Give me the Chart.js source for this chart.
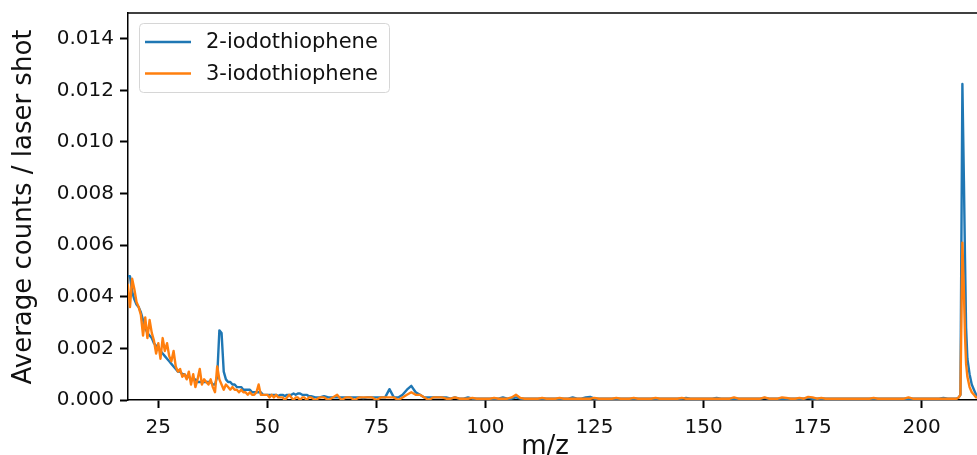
<!DOCTYPE html>
<html>
<head>
<meta charset="utf-8">
<title>Mass spectra: 2- and 3-iodothiophene</title>
<script src="https://cdn.jsdelivr.net/npm/chart.js@4/dist/chart.umd.min.js"></script>
<style>
  html, body { margin: 0; padding: 0; background: #fff; overflow: hidden; }
  #wrap { width: 977px; height: 455px; }
</style>
</head>
<body>
<div id="wrap"><canvas id="spec" width="977" height="455"></canvas></div>
<script>
// m/z sampling points (fine in the fragment region, coarse on the flat part, fine again at the parent ion)
const mz = [
  18, 18.5, 19, 19.5, 20, 20.5, 21, 21.5, 22, 22.5,
  23, 23.5, 24, 24.5, 25, 25.5, 26, 26.5, 27, 27.5,
  28, 28.5, 29, 29.5, 30, 30.5, 31, 31.5, 32, 32.5,
  33, 33.5, 34, 34.5, 35, 35.5, 36, 36.5, 37, 37.5,
  38, 38.5, 39, 39.5, 40, 40.5, 41, 41.5, 42, 42.5,
  43, 43.5, 44, 44.5, 45, 45.5, 46, 46.5, 47, 47.5,
  48, 48.5, 49, 49.5, 50, 50.5, 51, 51.5, 52, 52.5,
  53, 53.5, 54, 54.5, 55, 55.5, 56, 56.5, 57, 57.5,
  58, 58.5, 59, 59.5, 60,
  61, 62, 63, 64, 65, 66, 67, 68, 69, 70,
  71, 72, 73, 74, 75, 76, 77, 78, 79, 80,
  81, 82, 83, 84, 85, 86, 87, 88, 89, 90,
  91, 92, 93, 94, 95, 96, 97, 98, 99, 100,
  101, 102, 103, 104, 105, 106, 107, 108, 109, 110,
  111, 112, 113, 114, 115, 116, 117, 118, 119, 120,
  121, 122, 123, 124, 125, 126, 127, 128, 129, 130,
  131, 132, 133, 134, 135, 136, 137, 138, 139, 140,
  141, 142, 143, 144, 145, 146, 147, 148, 149, 150,
  151, 152, 153, 154, 155, 156, 157, 158, 159, 160,
  161, 162, 163, 164, 165, 166, 167, 168, 169, 170,
  171, 172, 173, 174, 175, 176, 177, 178, 179, 180,
  181, 182, 183, 184, 185, 186, 187, 188, 189, 190,
  191, 192, 193, 194, 195, 196, 197, 198, 199, 200,
  201, 202, 203, 204, 205, 206, 207,
  207.5, 208, 208.5, 208.9, 209.35, 209.7, 209.95, 210.2, 210.5, 211,
  211.5, 212, 212.5, 213
];

// 2-iodothiophene, average counts per laser shot
const iodo2 = [
  .0048, .0048, .0042, .0039, .0037, .0036, .0034, .0031, .0028, .0026,
  .0025, .0024, .0022, .0021, .0020, .0019, .0018, .0017, .0016, .0015,
  .0014, .0013, .0012, .0011, .0011, .0010, .0010, .0009, .0009, .0008,
  .0008, .0008, .0007, .0007, .0007, .0007, .0007, .0007, .0007, .0006,
  .0006, .0009, .0027, .0026, .0011, .0008, .0007, .0007, .0006, .0006,
  .0005, .0005, .0005, .0004, .0004, .0004, .0004, .0003, .0003, .0003,
  .0003, .0003, .0002, .0002, .0002, .0002, .0002, .0002, .0002, .00015,
  .0002, .0002, .00015, .0002, .0002, .0002, .00025, .0002, .00025, .00025,
  .0002, .0002, .0002, .00015, .00015,
  .0001, .0001, .00015, .0001, .0001, .0001, .0001, .0001, .0001, .0001,
  .0001, .00008, .0001, .0001, .0001, .0001, .0001, .00042, .0001, .0001,
  .0002, .0004, .00055, .0003, .0002, .0001, .0001, .0001, .0001, .0001,
  .0001, .00005, .0001, .00005, .00005, .0001, .00005, .00005, .00005, .00005,
  .00005, .00005, .00005, .0001, .00005, .00005, .0001, .00005, .00005, .00005,
  .00005, .00005, .00005, .00005, .00005, .00005, .00005, .00005, .00005, .0001,
  .00005, .00005, .0001, .00012, .00005, .00005, .00005, .00005, .00005, .00005,
  .00005, .00005, .00005, .00005, .00005, .00005, .00005, .00005, .00005, .00005,
  .00005, .00005, .00005, .00005, .00005, .00008, .00005, .00005, .00005, .00005,
  .00005, .00005, .00008, .00005, .00005, .00005, .00005, .00005, .00005, .00005,
  .00005, .00005, .00005, .00008, .00005, .00005, .00005, .00005, .00005, .00005,
  .00005, .00005, .00005, .00008, .00005, .00005, .00005, .00005, .00005, .00005,
  .00005, .00005, .00005, .00005, .00005, .00005, .00005, .00005, .00005, .00005,
  .00005, .00005, .00005, .00005, .00005, .00005, .00005, .00005, .00005, .00005,
  .00005, .00005, .00005, .00005, .00008, .00005, .00005,
  .00005, .00005, .0001, .0002, .01225, .0085, .0055, .0028, .0016, .0010,
  .0006, .0004, .0002, .0001
];

// 3-iodothiophene, average counts per laser shot
const iodo3 = [
  .0045, .0036, .0047, .0043, .0038, .0036, .0033, .0025, .0032, .0024,
  .0031, .0026, .0023, .0018, .0022, .0016, .0024, .0019, .0022, .0017,
  .0015, .0019, .0013, .0011, .0012, .0009, .0010, .0008, .0011, .0006,
  .0010, .0005, .0008, .0012, .0006, .0008, .0007, .0006, .0008, .0005,
  .0003, .0013, .0008, .0006, .0004, .0006, .0005, .0004, .0005, .0004,
  .0004, .0003, .0004, .0003, .0003, .0002, .0003, .0002, .0002, .0003,
  .0006, .0002, .0002, .0002, .0002, .0001, .0002, .0001, .0002, .0001,
  .0001, .0001, .0000, .0001, .0002, .0001, .0000, .0001, .0001, .0000,
  .0001, .0001, .0000, .0001, .0001,
  .0000, .0001, .0001, .0000, .0001, .0002, .0000, .0001, .0001, .0000,
  .0001, .0001, .0001, .0001, .0000, .0001, .0001, .0001, .0001, .0000,
  .0001, .0002, .0003, .0002, .0002, .0001, .0000, .0001, .0001, .0001,
  .00005, .00005, .0001, .00005, .00005, .00005, .00008, .00005, .00005, .00005,
  .00005, .00008, .00005, .00005, .00005, .0001, .0002, .00008, .00005, .00005,
  .00005, .00005, .00008, .00005, .00005, .00005, .00008, .00005, .00005, .00005,
  .00005, .00005, .00005, .00005, .00008, .00005, .00005, .00005, .00005, .00008,
  .00005, .00005, .00005, .00008, .00005, .00005, .00005, .00005, .00008, .00005,
  .00005, .00005, .00005, .00005, .00008, .00005, .00005, .00005, .00005, .00005,
  .00005, .00005, .00005, .00005, .00005, .00005, .0001, .00005, .00005, .00005,
  .00005, .00005, .00005, .0001, .00005, .00005, .00005, .0001, .00008, .00005,
  .00005, .00008, .00005, .00012, .0001, .00005, .00008, .00005, .00005, .00005,
  .00005, .00005, .00005, .00005, .00005, .00005, .00005, .00005, .00008, .00005,
  .00005, .00005, .00005, .00005, .00005, .00005, .0001, .00005, .00005, .00005,
  .00005, .00005, .00005, .00005, .00005, .00005, .00005,
  .00005, .00005, .0001, .0002, .0061, .0042, .0025, .0014, .0009, .0005,
  .0003, .0002, .0001, .0001
];

const seriesNames = ['2-iodothiophene', '3-iodothiophene'];
const seriesColors = ['#1f77b4', '#ff7f0e'];
const xTicks = [25, 50, 75, 100, 125, 150, 175, 200];
const yTicks = [0, 0.002, 0.004, 0.006, 0.008, 0.010, 0.012, 0.014];

const FONT = 'DejaVu Sans';
const INK = '#111';

function toPoints(ys) {
  return mz.map((x, i) => ({ x: x, y: ys[i] }));
}

// top spine, axis titles and the framed legend
const decorations = {
  id: 'decorations',
  afterDraw(chart) {
    const ctx = chart.ctx;
    const area = chart.chartArea;
    ctx.save();

    ctx.strokeStyle = '#000';
    ctx.lineWidth = 1.5;
    ctx.beginPath();
    ctx.moveTo(area.left - 0.75, area.top);
    ctx.lineTo(area.right, area.top);
    ctx.stroke();

    ctx.fillStyle = INK;
    ctx.font = '26px "' + FONT + '"';
    ctx.textAlign = 'center';
    ctx.textBaseline = 'alphabetic';
    ctx.fillText('m/z', 545, 454);

    ctx.save();
    ctx.translate(31, 207);
    ctx.rotate(-Math.PI / 2);
    ctx.fillText('Average counts / laser shot', 0, 0);
    ctx.restore();

    // legend box
    ctx.beginPath();
    ctx.roundRect(139.5, 23.5, 250, 69, 4);
    ctx.fillStyle = 'rgba(255,255,255,0.8)';
    ctx.fill();
    ctx.strokeStyle = '#d6d6d6';
    ctx.lineWidth = 1;
    ctx.stroke();

    const rows = [42, 73.5];
    ctx.font = '21px "' + FONT + '"';
    ctx.textAlign = 'left';
    ctx.textBaseline = 'middle';
    rows.forEach((y, i) => {
      ctx.strokeStyle = seriesColors[i];
      ctx.lineWidth = 2.3;
      ctx.beginPath();
      ctx.moveTo(145, y);
      ctx.lineTo(191, y);
      ctx.stroke();
      ctx.fillStyle = INK;
      ctx.fillText(seriesNames[i], 206, y + 1);
    });

    ctx.restore();
  }
};

new Chart(document.getElementById('spec'), {
  type: 'line',
  data: {
    datasets: [
      {
        label: seriesNames[0],
        data: toPoints(iodo2),
        borderColor: seriesColors[0],
        borderWidth: 2.4,
        pointRadius: 0,
        tension: 0,
        borderJoinStyle: 'round',
        order: 2
      },
      {
        label: seriesNames[1],
        data: toPoints(iodo3),
        borderColor: seriesColors[1],
        borderWidth: 2.4,
        pointRadius: 0,
        tension: 0,
        borderJoinStyle: 'round',
        order: 1
      }
    ]
  },
  options: {
    responsive: false,
    devicePixelRatio: 1,
    animation: false,
    events: [],
    layout: { padding: { top: 13, right: 0, left: 0, bottom: 0 } },
    plugins: {
      legend: { display: false },
      tooltip: { enabled: false }
    },
    scales: {
      x: {
        type: 'linear',
        min: 18.05,
        max: 212.7,
        afterFit(scale) {
          scale.height = 55;
          scale.paddingLeft = 0;
          scale.paddingRight = 0;
        },
        afterBuildTicks(scale) { scale.ticks = xTicks.map(v => ({ value: v })); },
        ticks: {
          color: INK,
          font: { family: FONT, size: 20 },
          padding: 8,
          maxRotation: 0,
          callback: v => String(v)
        },
        grid: {
          drawOnChartArea: false,
          drawTicks: true,
          tickLength: 8,
          tickWidth: 2,
          tickColor: '#000'
        },
        border: { display: true, color: '#000', width: 1.5 }
      },
      y: {
        type: 'linear',
        min: 0,
        max: 0.0150,
        afterFit(scale) {
          scale.width = 128;
          scale.paddingTop = 0;
          scale.paddingBottom = 0;
        },
        afterBuildTicks(scale) { scale.ticks = yTicks.map(v => ({ value: v })); },
        ticks: {
          color: INK,
          font: { family: FONT, size: 20 },
          padding: 6,
          callback: v => v.toFixed(3)
        },
        grid: {
          drawOnChartArea: false,
          drawTicks: true,
          tickLength: 8,
          tickWidth: 2,
          tickColor: '#000'
        },
        border: { display: true, color: '#000', width: 1.5 }
      }
    }
  },
  plugins: [decorations]
});
</script>
</body>
</html>
